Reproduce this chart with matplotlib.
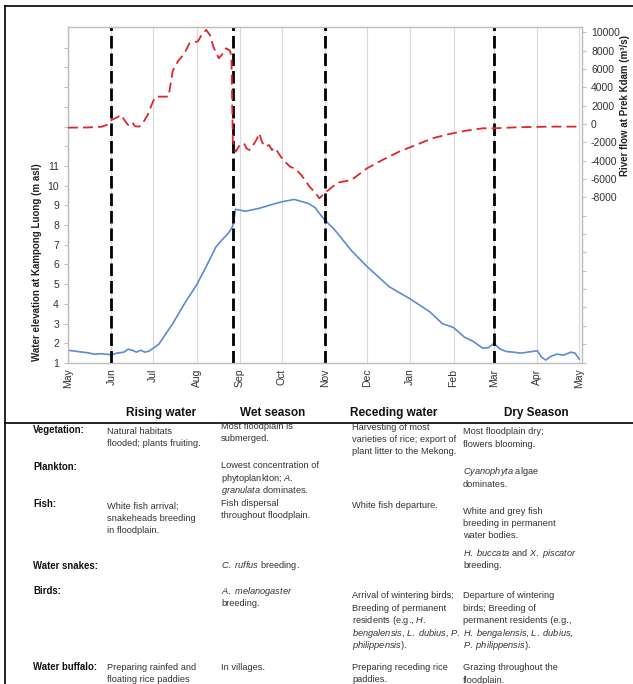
"""Floodplain water level / river flow with seasonal ecology table."""

import matplotlib

matplotlib.use("Agg")

import matplotlib.dates as mdates
import matplotlib.pyplot as plt
import numpy as np
from matplotlib.lines import Line2D
from matplotlib.ticker import FuncFormatter

plt.rcParams["font.family"] = ["Liberation Sans", "DejaVu Sans"]
plt.rcParams["mathtext.fontset"] = "custom"
plt.rcParams["mathtext.rm"] = "Liberation Sans"
plt.rcParams["mathtext.it"] = "Liberation Sans:italic"

# water elevation at Kampong Luong (m asl)
level_dates = np.array([
    "2011-05-01", "2011-05-08", "2011-05-15", "2011-05-20", "2011-05-25",
    "2011-06-01", "2011-06-05", "2011-06-10", "2011-06-13", "2011-06-16",
    "2011-06-19", "2011-06-22", "2011-06-25", "2011-06-28", "2011-07-01",
    "2011-07-05", "2011-07-15", "2011-07-25", "2011-08-01", "2011-08-08",
    "2011-08-15", "2011-08-20", "2011-08-24", "2011-08-27", "2011-08-29",
    "2011-09-05", "2011-09-15", "2011-09-22", "2011-10-01", "2011-10-10",
    "2011-10-20", "2011-10-25", "2011-10-29", "2011-11-01", "2011-11-08",
    "2011-11-20", "2011-12-01", "2011-12-17", "2012-01-01", "2012-01-15",
    "2012-01-24", "2012-02-01", "2012-02-09", "2012-02-15", "2012-02-22",
    "2012-02-26", "2012-03-01", "2012-03-05", "2012-03-10", "2012-03-15",
    "2012-03-20", "2012-03-25", "2012-04-01", "2012-04-04", "2012-04-07",
    "2012-04-11", "2012-04-15", "2012-04-20", "2012-04-25", "2012-04-28",
    "2012-05-01",
], dtype="datetime64[D]")
level_values = [
    1.65, 1.58, 1.52, 1.45, 1.47,
    1.42, 1.50, 1.55, 1.70, 1.65,
    1.55, 1.65, 1.55, 1.60, 1.75,
    1.95, 3.00, 4.20, 4.95, 5.90,
    6.90, 7.30, 7.60, 7.95, 8.80,
    8.70, 8.85, 9.00, 9.18, 9.30,
    9.10, 8.88, 8.50, 8.25, 7.75,
    6.70, 5.90, 4.87, 4.25, 3.60,
    3.00, 2.80, 2.30, 2.10, 1.75,
    1.78, 2.00, 1.72, 1.58, 1.55,
    1.50, 1.55, 1.62, 1.30, 1.15,
    1.35, 1.45, 1.40, 1.55, 1.50,
    1.20,
]

# river flow at Prek Kdam (m3/s)
flow_dates = np.array([
    "2011-05-01", "2011-05-15", "2011-05-25", "2011-05-29", "2011-06-01",
    "2011-06-05", "2011-06-08", "2011-06-11", "2011-06-13", "2011-06-16",
    "2011-06-18", "2011-06-21", "2011-06-24", "2011-06-27", "2011-07-01",
    "2011-07-03", "2011-07-12", "2011-07-15", "2011-07-19", "2011-07-23",
    "2011-07-27", "2011-08-02", "2011-08-05", "2011-08-08", "2011-08-11",
    "2011-08-13", "2011-08-17", "2011-08-20", "2011-08-22", "2011-08-25",
    "2011-08-26", "2011-08-27", "2011-08-29", "2011-09-01", "2011-09-04",
    "2011-09-06", "2011-09-08", "2011-09-11", "2011-09-13", "2011-09-15",
    "2011-09-17", "2011-09-19", "2011-09-22", "2011-09-24", "2011-09-26",
    "2011-09-28", "2011-10-02", "2011-10-07", "2011-10-11", "2011-10-15",
    "2011-10-21", "2011-10-25", "2011-10-28", "2011-10-30", "2011-11-01",
    "2011-11-10", "2011-11-20", "2011-12-01", "2011-12-12", "2011-12-24",
    "2012-01-05", "2012-01-17", "2012-01-29", "2012-02-10", "2012-02-22",
    "2012-03-01", "2012-03-17", "2012-04-10", "2012-05-01",
], dtype="datetime64[D]")
flow_values = [
    -400, -380, -300, -100, 440,
    700, 980, 300, -110, 200,
    -250, -290, 200, 980, 2500,
    2980, 2980, 5800, 6900, 7600,
    8800, 9000, 9800, 10250, 9600,
    8440, 7160, 7700, 8250, 8000,
    7350, -1750, -3020, -2300, -2110,
    -2700, -2840, -2200, -1700, -1020,
    -2000, -2470, -2300, -2840, -2600,
    -3020, -3930, -4650, -4900, -5560,
    -6840, -7500, -8100, -7800, -7500,
    -6400, -6100, -4840, -3930, -3020,
    -2290, -1560, -1090, -730, -470,
    -470, -360, -290, -290,
]

season_breaks = np.array(
    ["2011-06-01", "2011-08-27", "2011-11-01", "2012-03-01"], dtype="datetime64[D]"
)
season_names = ["Rising water", "Wet season", "Receding water", "Dry Season"]

# table: row label, y of row (px from top)
row_labels = ["Vegetation:", "Plankton:", "Fish:", "Water snakes:", "Birds:", "Water buffalo:"]
row_label_y = [430, 467, 504, 566, 591, 667]

# cells: (column, first-line y in px, lines)
cells = [
    (0, 431, ["Natural habitats", "flooded; plants fruiting."]),
    (1, 426, ["Most floodplain is", "submerged."]),
    (2, 427, ["Harvesting of most", "varieties of rice; export of",
              "plant litter to the Mekong."]),
    (3, 432, ["Most floodplain dry;", "flowers blooming."]),
    (1, 466, ["Lowest concentration of", r"phytoplankton; $\mathit{A.}$",
              r"$\mathit{granulata}$ dominates."]),
    (3, 472, [r"$\mathit{Cyanophyta}$ algae", "dominates."]),
    (0, 506, ["White fish arrival;", "snakeheads breeding", "in floodplain."]),
    (1, 503, ["Fish dispersal", "throughout floodplain."]),
    (2, 506, ["White fish departure."]),
    (3, 511, ["White and grey fish", "breeding in permanent", "water bodies."]),
    (3, 553, [r"$\mathit{H.\ buccata}$ and $\mathit{X.\ piscator}$", "breeding."]),
    (1, 566, [r"$\mathit{C.\ ruffus}$ breeding."]),
    (1, 591, [r"$\mathit{A.\ melanogaster}$", "breeding."]),
    (2, 596, ["Arrival of wintering birds;", "Breeding of permanent",
              r"residents (e.g., $\mathit{H.}$",
              r"$\mathit{bengalensis}$, $\mathit{L.\ dubius}$, $\mathit{P.}$",
              r"$\mathit{philippensis}$)."]),
    (3, 596, ["Departure of wintering", "birds; Breeding of",
              "permanent residents (e.g.,",
              r"$\mathit{H.\ bengalensis}$, $\mathit{L.\ dubius}$,",
              r"$\mathit{P.\ philippensis}$)."]),
    (0, 667, ["Preparing rainfed and", "floating rice paddies"]),
    (1, 667, ["In villages."]),
    (2, 667, ["Preparing receding rice", "paddies."]),
    (3, 668, ["Grazing throughout the", "floodplain."]),
]

W, H = 633, 684
col_x = [107, 221, 352, 463]
header_x = [161, 273, 394, 536]
LINE_STEP = 12.4
GRID = "#d9d9d9"
SPINE = "#bfbfbf"
TXT = "#333333"


def fx(x):
    return x / W


def fy(y):
    return 1 - y / H


fig = plt.figure(figsize=(W / 100, H / 100), dpi=100)

left, right, top, bottom = 68, 582, 27, 363
ax = fig.add_axes([fx(left), fy(bottom), fx(right - left), (bottom - top) / H])
ax2 = ax.twinx()

start = np.datetime64("2011-05-01")
end = np.datetime64("2012-05-03")
ax.set_xlim(start, end)
ax.xaxis.set_major_locator(mdates.MonthLocator())
ax.xaxis.set_major_formatter(mdates.DateFormatter("%b"))
ax.tick_params(axis="x", rotation=90, labelsize=7.5, colors=TXT, length=0, pad=4)
ax.grid(axis="x", color=GRID, lw=0.8)
ax.set_axisbelow(True)

ax.plot(level_dates, level_values, color="#5a8bd6", lw=1.2, zorder=3)
for d in season_breaks:
    ax.axvline(d, color="black", lw=2, dashes=(4.5, 1.8), zorder=4)

ax.set_ylim(1, 18.05)
ax.set_yticks(range(1, 18))
ax.yaxis.set_major_formatter(FuncFormatter(lambda v, _: f"{v:.0f}" if v <= 11 else ""))
ax.tick_params(axis="y", labelsize=7.5, colors=SPINE, labelcolor=TXT, length=3, width=0.8)

ax2.plot(flow_dates, flow_values, color="#e0262a", lw=1.3, dashes=(5.5, 2.8), zorder=3)
ax2.set_ylim(-26050, 10570)
ax2.set_yticks(range(-26000, 10001, 2000))
ax2.yaxis.set_major_formatter(FuncFormatter(lambda v, _: f"{v:.0f}" if v >= -8000 else ""))
ax2.tick_params(axis="y", labelsize=7.5, colors=SPINE, labelcolor=TXT, length=3, width=0.8)

for a in (ax, ax2):
    for s in a.spines.values():
        s.set_color(SPINE)
        s.set_linewidth(0.9)

fig.text(fx(37), fy(262), "Water elevation at Kampong Luong (m asl)", rotation=90,
         ha="center", va="center", fontsize=7, fontweight="bold", color="#222222")
fig.text(fx(625), fy(105), "River flow at Prek Kdam (m\u00b3/s)", rotation=90,
         ha="center", va="center", fontsize=7, fontweight="bold", color="#222222")

# outer frame and separator
fig.add_artist(Line2D([fx(5), fx(5)], [fy(6), fy(684)], color="black", lw=1.2))
fig.add_artist(Line2D([fx(5), 1], [fy(6), fy(6)], color="black", lw=1.2))
fig.add_artist(Line2D([fx(5), 1], [fy(423), fy(423)], color="black", lw=1.2))

for name, x in zip(season_names, header_x):
    fig.text(fx(x), fy(413), name, ha="center", va="center",
             fontsize=8.5, fontweight="bold", color="#111111")

for label, y in zip(row_labels, row_label_y):
    fig.text(fx(33), fy(y), label, ha="left", va="center",
             fontsize=6.9, fontweight="bold", color="#111111")

for col, y0, lines in cells:
    for i, line in enumerate(lines):
        fig.text(fx(col_x[col]), fy(y0 + i * LINE_STEP), line, ha="left",
                 va="center", fontsize=6.7, color=TXT)

fig.savefig("out.png", dpi=100)
